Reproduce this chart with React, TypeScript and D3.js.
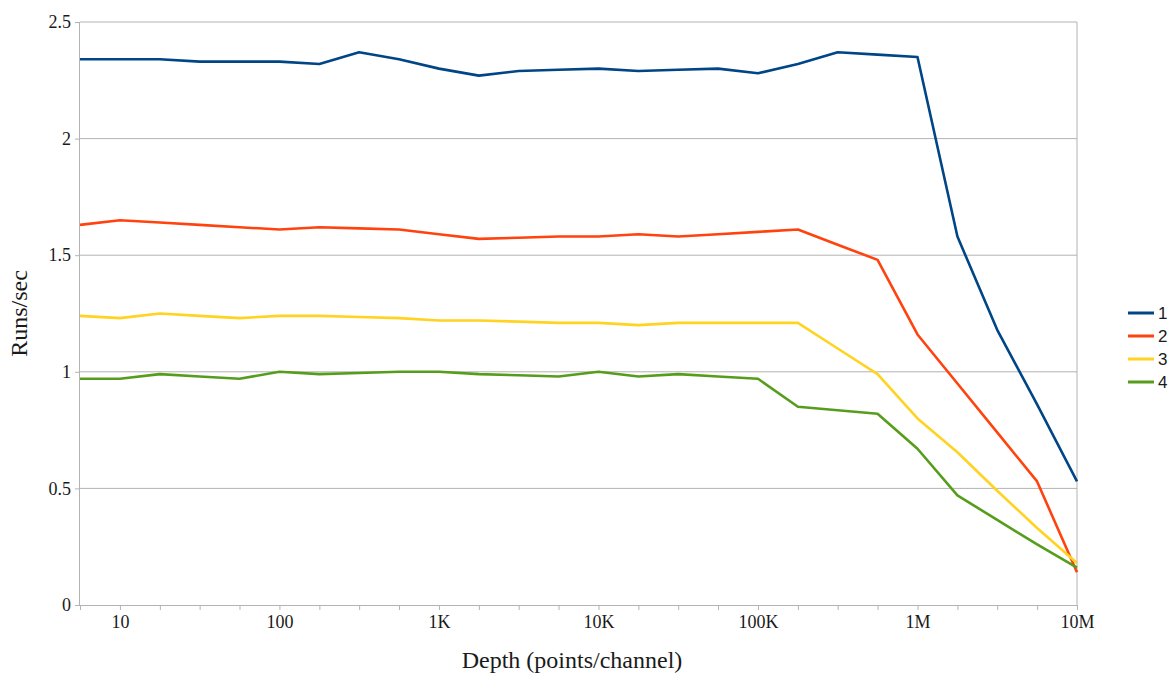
import { useRef, useEffect } from 'react';
import * as d3 from 'd3';

// depth (points/channel), four samples per decade
const depths = [
  5.62, 10, 17.8, 31.6, 56.2,
  100, 178, 316, 562,
  1e3, 1.78e3, 3.16e3, 5.62e3,
  1e4, 1.78e4, 3.16e4, 5.62e4,
  1e5, 1.78e5, 3.16e5, 5.62e5,
  1e6, 1.78e6, 3.16e6, 5.62e6,
  1e7,
];

const series1 = [
  2.34, 2.34, 2.34, 2.33, 2.33, 2.33, 2.32, 2.37, 2.34, 2.30, 2.27, 2.29, 2.295,
  2.30, 2.29, 2.295, 2.30, 2.28, 2.32, 2.37, 2.36, 2.35, 1.58, 1.18, 0.86, 0.53,
];
const series2 = [
  1.63, 1.65, 1.64, 1.63, 1.62, 1.61, 1.62, 1.615, 1.61, 1.59, 1.57, 1.575, 1.58,
  1.58, 1.59, 1.58, 1.59, 1.60, 1.61, 1.545, 1.48, 1.16, 0.95, 0.74, 0.53, 0.14,
];
const series3 = [
  1.24, 1.23, 1.25, 1.24, 1.23, 1.24, 1.24, 1.235, 1.23, 1.22, 1.22, 1.215, 1.21,
  1.21, 1.20, 1.21, 1.21, 1.21, 1.21, 1.10, 0.99, 0.80, 0.655, 0.49, 0.33, 0.18,
];
const series4 = [
  0.97, 0.97, 0.99, 0.98, 0.97, 1.0, 0.99, 0.995, 1.0, 1.0, 0.99, 0.985, 0.98,
  1.0, 0.98, 0.99, 0.98, 0.97, 0.85, 0.835, 0.82, 0.67, 0.47, 0.365, 0.26, 0.16,
];

const seriesNames = ['1', '2', '3', '4'];
const seriesColors = ['#004586', '#ff420e', '#ffd320', '#579d1c'];
const yTicks = [0, 0.5, 1, 1.5, 2, 2.5];
const xLabels = [
  { v: 10, t: '10' },
  { v: 100, t: '100' },
  { v: 1e3, t: '1K' },
  { v: 1e4, t: '10K' },
  { v: 1e5, t: '100K' },
  { v: 1e6, t: '1M' },
  { v: 1e7, t: '10M' },
];

export default function App() {
  const svgRef = useRef<SVGSVGElement>(null);

  useEffect(() => {
    document.body.style.margin = '0';
    if (!svgRef.current) return;

    const width = 1171;
    const height = 675;
    const margin = { top: 22, right: 94, bottom: 70, left: 80 };
    const serif = '"Liberation Serif", "DejaVu Serif", serif';
    const grid = '#b3b3b3';

    const svg = d3.select(svgRef.current);
    svg.selectAll('*').remove();
    svg.attr('width', width).attr('height', height);

    const x = d3.scaleLog()
      .domain([depths[0], depths[depths.length - 1]])
      .range([margin.left, width - margin.right]);

    const y = d3.scaleLinear()
      .domain([0, 2.5])
      .range([height - margin.bottom, margin.top]);

    // Gridlines
    svg.append('g')
      .selectAll('line')
      .data(yTicks.filter(d => d > 0))
      .join('line')
      .attr('x1', margin.left)
      .attr('x2', width - margin.right)
      .attr('y1', d => y(d))
      .attr('y2', d => y(d))
      .attr('stroke', grid)
      .attr('stroke-width', 1);

    // Right border
    svg.append('line')
      .attr('x1', width - margin.right)
      .attr('x2', width - margin.right)
      .attr('y1', margin.top)
      .attr('y2', y(0))
      .attr('stroke', grid);

    // Y axis
    svg.append('g')
      .attr('transform', `translate(${margin.left},0)`)
      .call(d3.axisLeft(y).tickValues(yTicks).tickSize(5).tickPadding(4).tickFormat(d3.format('')))
      .call(g => g.select('.domain').attr('stroke', grid).attr('d', `M-0.5,${y(2.5)}V${y(0)}`))
      .call(g => g.selectAll('.tick line').attr('stroke', grid))
      .call(g => g.selectAll('.tick text')
        .attr('fill', '#1a1a1a')
        .attr('font-family', serif)
        .attr('font-size', '18px'));

    // X axis
    const labelMap = new Map(xLabels.map(d => [d.v, d.t]));
    svg.append('g')
      .attr('transform', `translate(0,${y(0)})`)
      .call(d3.axisBottom(x).tickValues(depths).tickSize(5).tickPadding(5)
        .tickFormat(d => labelMap.get(+d) ?? ''))
      .call(g => g.select('.domain').attr('stroke', grid).attr('d', `M${margin.left},0.5H${width - margin.right}`))
      .call(g => g.selectAll('.tick line').attr('stroke', grid))
      .call(g => g.selectAll('.tick text')
        .attr('fill', '#1a1a1a')
        .attr('font-family', serif)
        .attr('font-size', '18px'));

    // Lines
    const allSeries = [series1, series2, series3, series4];
    const line = d3.line<number>()
      .x((_, i) => x(depths[i]))
      .y(d => y(d));

    allSeries.forEach((s, i) => {
      svg.append('path')
        .datum(s)
        .attr('fill', 'none')
        .attr('stroke', seriesColors[i])
        .attr('stroke-width', 2.6)
        .attr('stroke-linejoin', 'round')
        .attr('d', line);
    });

    // Axis titles
    svg.append('text')
      .attr('x', 572)
      .attr('y', 668)
      .attr('text-anchor', 'middle')
      .attr('font-family', serif)
      .attr('font-size', '24px')
      .attr('fill', '#1a1a1a')
      .text('Depth (points/channel)');

    svg.append('text')
      .attr('transform', `translate(27,${(margin.top + height - margin.bottom) / 2}) rotate(-90)`)
      .attr('text-anchor', 'middle')
      .attr('font-family', serif)
      .attr('font-size', '24px')
      .attr('fill', '#1a1a1a')
      .text('Runs/sec');

    // Legend
    const legend = svg.append('g').attr('transform', 'translate(1128,313)');
    seriesNames.forEach((name, i) => {
      const row = legend.append('g').attr('transform', `translate(0,${i * 23})`);
      row.append('line')
        .attr('x1', 0).attr('x2', 26)
        .attr('y1', 0).attr('y2', 0)
        .attr('stroke', seriesColors[i])
        .attr('stroke-width', 3);
      row.append('text')
        .attr('x', 30)
        .attr('y', 0)
        .attr('dy', '0.35em')
        .attr('font-family', '"Liberation Sans", Arial, sans-serif')
        .attr('font-size', '17px')
        .attr('fill', '#1a1a1a')
        .text(name);
    });
  }, []);

  return <svg ref={svgRef} style={{ display: 'block' }} />;
}
